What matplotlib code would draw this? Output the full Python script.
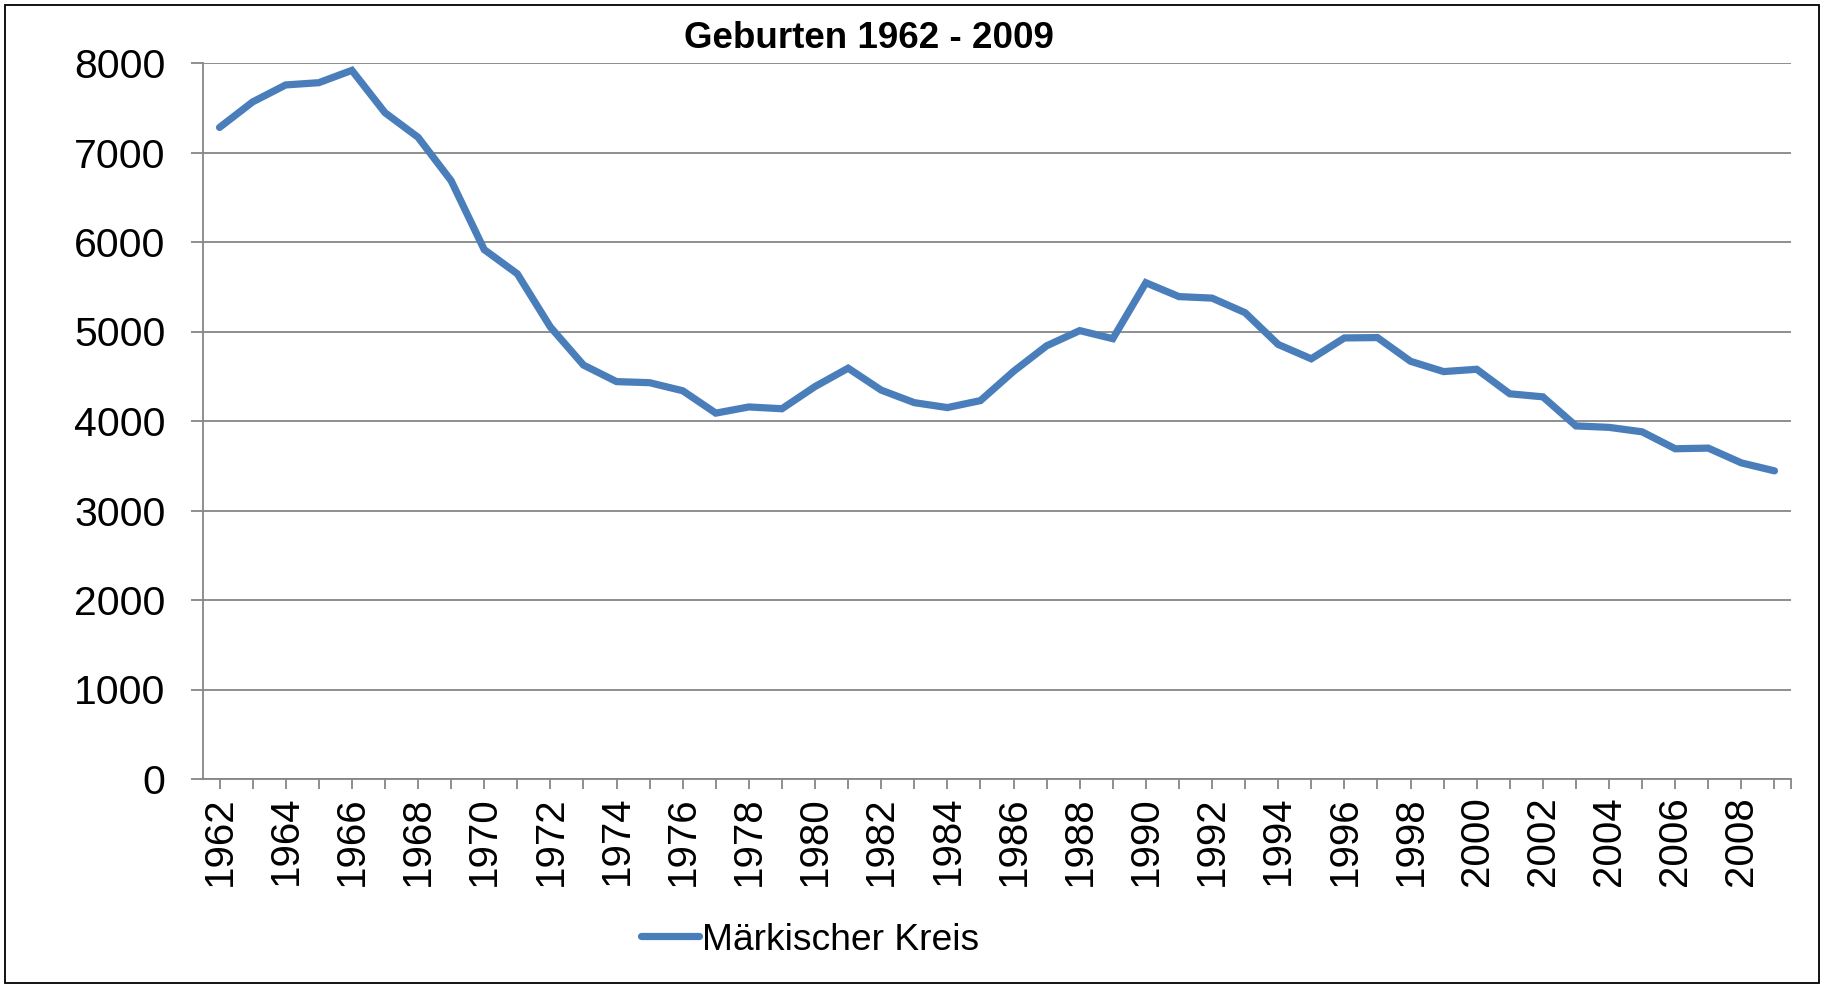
import matplotlib
matplotlib.use("Agg")
import matplotlib.pyplot as plt
from matplotlib.patches import Rectangle
from matplotlib.ticker import FixedLocator

plt.rcParams['font.family'] = ['Liberation Sans', 'DejaVu Sans']

title = "Geburten 1962 - 2009"
series_name = "Märkischer Kreis"
years = list(range(1962, 2010))
births = [7280, 7565, 7755, 7780, 7918, 7445, 7170, 6685, 5915, 5645,
          5050, 4625, 4440, 4428, 4338, 4088, 4157, 4137, 4385, 4590,
          4345, 4205, 4150, 4228, 4555, 4840, 5010, 4920, 5545, 5390,
          5373, 5210, 4855, 4695, 4928, 4932, 4667, 4552, 4578, 4304,
          4270, 3945, 3929, 3879, 3690, 3697, 3532, 3443]
yticks = [0, 1000, 2000, 3000, 4000, 5000, 6000, 7000, 8000]
xlabel_years = years[::2]

W, H = 1825, 985
fig = plt.figure(figsize=(W / 100, H / 100), dpi=100)
ax = fig.add_axes([203 / W, 1 - 779 / H, (1791 - 203) / W, (779 - 63) / H])

color = '#4A7EBB'
grid_c = '#868686'
line, = ax.plot(years, births, color=color, lw=5.2, solid_joinstyle='miter',
                solid_capstyle='round', label=series_name, zorder=3)

ax.set_xlim(years[0] - 0.5, years[-1] + 0.5)
ax.set_ylim(0, 8000)
ax.set_yticks(yticks)
ax.set_yticklabels([str(v) for v in yticks])
ax.yaxis.grid(True, color=grid_c, lw=1.3)
ax.set_axisbelow(True)

ax.set_xticks(xlabel_years)
ax.set_xticklabels([str(y) for y in xlabel_years], rotation=90)
ax.xaxis.set_minor_locator(FixedLocator([y for y in years if y not in xlabel_years] + [years[-1] + 0.5]))

for s in ['top', 'right']:
    ax.spines[s].set_visible(False)
for s in ['left', 'bottom']:
    ax.spines[s].set_color(grid_c)
    ax.spines[s].set_linewidth(1.3)

ax.tick_params(axis='y', which='major', length=8.6, width=1.3, color=grid_c,
               pad=18.5, labelsize=29.5)
ax.tick_params(axis='x', which='both', length=7.2, width=1.3, color=grid_c,
               pad=5, labelsize=29)

fig.text(869 / W, 1 - 48 / H, title, ha='center', va='baseline',
         fontsize=26.5, fontweight='bold')

fig.legend(handles=[line], loc='center left', bbox_to_anchor=(641 / W, 1 - 940 / H),
           frameon=False, fontsize=26.8, handlelength=1.55, handletextpad=0.1,
           borderpad=0, borderaxespad=0)

fig.patches.append(Rectangle((5 / W, 2 / H), (1819 - 5) / W, (980 - 2) / H,
                             transform=fig.transFigure, fill=False,
                             edgecolor='black', lw=1.3))

fig.savefig('out.png', dpi=100)
